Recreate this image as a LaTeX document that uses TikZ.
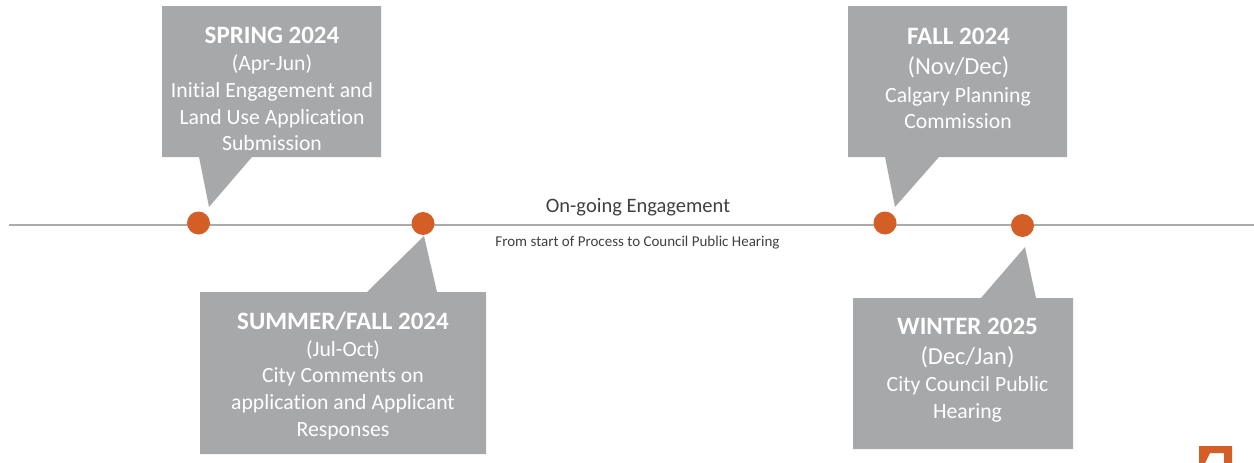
\documentclass[tikz,border=0pt]{standalone}
\usepackage{fontspec}
\setmainfont[Ligatures=NoCommon]{Carlito}
\definecolor{callgray}{HTML}{A7A8AA}
\definecolor{dotor}{HTML}{D45F26}
\definecolor{linegray}{HTML}{ABABAB}
\definecolor{txtdark}{HTML}{404040}
\begin{document}
\begin{tikzpicture}[x=1pt,y=-1pt,
  callout/.style={fill=callgray,draw=none},
  dot/.style={circle,fill=dotor,draw=none,minimum size=23pt,inner sep=0pt},
  ctext/.style={text=white,align=center,font=\fontsize{21.7pt}{26.6pt}\selectfont,inner sep=0pt,anchor=center},
  head/.style={font=\fontsize{25pt}{28pt}\selectfont\bfseries,text=white,inner sep=0pt}]
\useasboundingbox (0,0) rectangle (1254,463);
\coordinate (lineL) at (9,225);
\coordinate (lineR) at (1254,225);
\draw[linegray,line width=2pt] (lineL) -- (lineR);
\node[dot] (d1) at (198.5,223) {};
\node[dot] (d2) at (423,223.5) {};
\node[dot] (d3) at (885,223) {};
\node[dot] (d4) at (1022.5,225.5) {};
% callouts
\fill[callout] (162,6) -- (381,6) -- (381,157) -- (252,157) -- (209,207) -- (199,157) -- (162,157) -- cycle;
\fill[callout] (200,292) -- (367,292) -- (424,236) -- (437,292) -- (486,292) -- (486,454) -- (200,454) -- cycle;
\fill[callout] (848,6) -- (1067,6) -- (1067,157) -- (939,157) -- (895,207) -- (885,157) -- (848,157) -- cycle;
\fill[callout] (853,298) -- (981,298) -- (1025,247) -- (1036,298) -- (1073,298) -- (1073,449) -- (853,449) -- cycle;
% texts
\node[head] (t1) at (272,35) {SPRING 2024};
\node[ctext] (t1b) at (272,103) {(Apr-Jun)\\Initial Engagement and\\Land Use Application\\Submission};
\node[head] (t2) at (343,321) {SUMMER/FALL 2024};
\node[ctext] (t2b) at (343,390) {(Jul-Oct)\\City Comments on\\application and Applicant\\Responses};
\node[head] (t3) at (958.5,36) {FALL 2024};
\node[ctext,font=\fontsize{24.5pt}{28pt}\selectfont] (t3a) at (958.5,67.5) {(Nov/Dec)};
\node[ctext] (t3b) at (958,108) {Calgary Planning\\Commission};
\node[head] (t4) at (967.5,326) {WINTER 2025};
\node[ctext,font=\fontsize{24.5pt}{28pt}\selectfont] (t4a) at (967.5,357) {(Dec/Jan)};
\node[ctext] (t4b) at (967.5,399.5) {City Council Public\\Hearing};
\node[text=txtdark,font=\fontsize{20.5pt}{22pt}\selectfont,inner sep=0pt] (on) at (638,207) {On-going Engagement};
\node[text=txtdark,font=\fontsize{15pt}{16pt}\selectfont,inner sep=0pt] (from) at (637.5,243) {From start of Process to Council Public Hearing};
% corner mark
\fill[dotor,even odd rule] (1199,446) -- (1232,446) -- (1232,463) -- (1199,463) -- cycle
  (1205,463) -- (1210,453) -- (1224,453) -- (1224,463) -- cycle;
\end{tikzpicture}
\end{document}
